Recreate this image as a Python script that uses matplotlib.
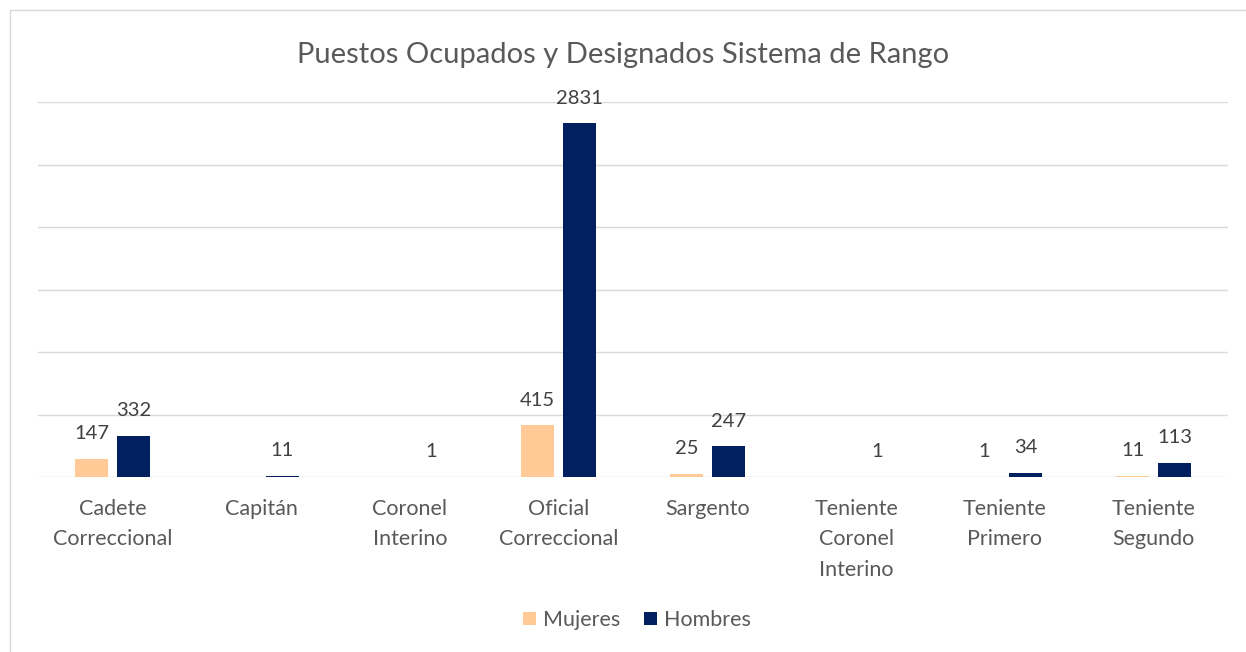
import matplotlib.pyplot as plt
from matplotlib.patches import Rectangle
import numpy as np

# 데이터
categories = ["Cadete\nCorreccional", "Capitán", "Coronel\nInterino", "Oficial\nCorreccional",
              "Sargento", "Teniente\nCoronel\nInterino", "Teniente\nPrimero", "Teniente\nSegundo"]
mujeres = [147, np.nan, np.nan, 415, 25, np.nan, 1, 11]
hombres = [332, 11, 1, 2831, 247, 1, 34, 113]

plt.rcParams['font.family'] = ['Lato', 'DejaVu Sans']

fig = plt.figure(figsize=(12.46, 6.52), dpi=100)
ax = fig.add_axes([38 / 1246, 175 / 652, 1190 / 1246, 375 / 652])

# 차트 테두리
fig.patches.append(Rectangle((10 / 1246, -0.1), 1.2, (652 - 10) / 652 + 0.1,
                             transform=fig.transFigure, fill=False,
                             edgecolor='#D9D9D9', linewidth=1))

x = np.arange(len(categories))
w = 0.222
off = 0.141
b1 = ax.bar(x - off, np.nan_to_num(mujeres), w, color='#FFCA95', label='Mujeres')
b2 = ax.bar(x + off, hombres, w, color='#002060', label='Hombres')

# 데이터 레이블
for xs, vals in [(x - off, mujeres), (x + off, hombres)]:
    for xi, v in zip(xs, vals):
        if np.isnan(v):
            continue
        ax.annotate(f"{int(v)}", (xi, v), xytext=(0, 18), textcoords='offset points',
                    ha='center', va='center', fontsize=14.5, color='#404040')

ax.set_xlim(-0.5, len(categories) - 0.5)
ax.set_ylim(0, 3000)
ax.set_yticks(np.arange(0, 3001, 500))
ax.yaxis.grid(True, color='#D9D9D9', linewidth=1)
ax.set_axisbelow(True)
ax.tick_params(axis='y', left=False, labelleft=False)
ax.tick_params(axis='x', length=0, pad=16)
ax.set_xticks(x)
ax.set_xticklabels(categories, fontsize=15.5, color='#595959', linespacing=1.64)
for s in ax.spines.values():
    s.set_visible(False)

fig.text(0.5, 1 - 55 / 652, "Puestos Ocupados y Designados Sistema de Rango",
         ha='center', va='center', fontsize=21, color='#595959')

fig.legend(handles=[b1, b2], loc='center', bbox_to_anchor=(637 / 1246, 1 - 620 / 652), ncol=2,
           frameon=False, fontsize=15.5, labelcolor='#595959', handlelength=0.6,
           handleheight=0.6, handletextpad=0.35, columnspacing=1.1)

fig.savefig("out.png", dpi=100)
